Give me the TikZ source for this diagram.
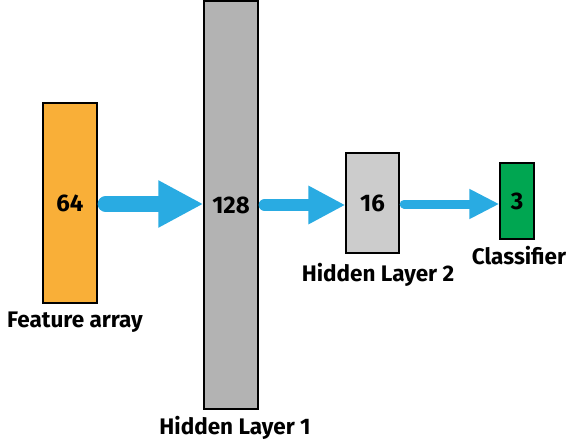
\documentclass[tikz,border=0pt]{standalone}
\usepackage{fontspec}
\setmainfont{Fira Sans}
\usepackage{tikz}
\usetikzlibrary{arrows.meta}
\definecolor{featorange}{HTML}{F9AF38}
\definecolor{hiddengray}{HTML}{B3B3B3}
\definecolor{hiddenlight}{HTML}{CCCCCC}
\definecolor{classgreen}{HTML}{00A651}
\definecolor{flowblue}{HTML}{29ABE2}
\tikzstyle{layer} = [draw=black, line width=1.3pt, inner sep=0pt, font=\fontsize{24}{28}\selectfont\bfseries]
\tikzstyle{caption} = [inner sep=0pt, font=\fontsize{22.5}{27}\selectfont\bfseries]
\tikzstyle{flow} = [draw=flowblue, line cap=round]

\begin{document}
\begin{tikzpicture}[x=1pt, y=-1pt]
\useasboundingbox (0, 0) rectangle (569, 446);
%% layers
\node[layer, fill=featorange, minimum width=54pt, minimum height=200pt] (feat) at (70, 203) {64};
\node[layer, fill=hiddengray, minimum width=54pt, minimum height=408pt] (hidA) at (231, 205) {128};
\node[layer, fill=hiddenlight, minimum width=53pt, minimum height=100pt] (hidB) at (372.5, 203) {16};
\node[layer, fill=classgreen, minimum width=34pt, minimum height=76pt] (clf) at (517, 201) {3};

%% captions
\node[caption] (featcap) at (75, 322) {Feature array};
\node[caption] (hidAcap) at (235, 428) {Hidden Layer 1};
\node[caption] (hidBcap) at (378, 275) {Hidden Layer 2};
\node[caption] (clfcap) at (519, 256) {Classifier};

%% arrows
\draw[flow, line width=16pt, -{Triangle[length=45pt, width=44pt]}]
    ([xshift=8pt]feat.east |- 0, 204) -- (hidA.west |- 0, 204);
\draw[flow, line width=12pt, -{Triangle[length=37pt, width=36pt]}]
    ([xshift=6pt]hidA.east |- 0, 205) -- (hidB.west |- 0, 205);
\draw[flow, line width=9pt, -{Triangle[length=30pt, width=28pt]}]
    ([xshift=4.5pt]hidB.east |- 0, 204) -- (clf.west |- 0, 204);
\end{tikzpicture}
\end{document}
